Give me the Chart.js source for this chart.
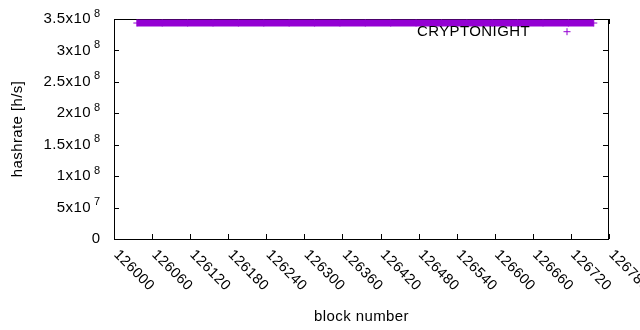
<!DOCTYPE html>
<html>
<head>
<meta charset="utf-8">
<script src="https://cdn.jsdelivr.net/npm/chart.js@4/dist/chart.umd.min.js"></script>
<style>
    body { margin: 0; background: #fff; }
    #wrap { width: 640px; height: 330px; }
</style>
</head>
<body>
<div id="wrap"><canvas id="hashChart" width="640" height="330"></canvas></div>
<script>
// 데이터
const seriesName = 'CRYPTONIGHT';
const blocks = [126036, 126076, 126116, 126156, 126196, 126236, 126276, 126316, 126356, 126396,
                126436, 126476, 126516, 126556, 126596, 126636, 126676, 126716, 126756];
const hashrates = [343600000, 343600000, 343600000, 343600000, 343600000, 343600000, 343600000,
                   343600000, 343600000, 343600000, 343600000, 343600000, 343600000, 343600000,
                   343600000, 343600000, 343600000, 343600000, 343600000];

// 축 눈금
const xTicks = [126000, 126060, 126120, 126180, 126240, 126300, 126360, 126420,
                126480, 126540, 126600, 126660, 126720, 126780];
const xTickLabels = ['126000', '126060', '126120', '126180', '126240', '126300', '126360',
                     '126420', '126480', '126540', '126600', '126660', '126720', '126780'];
const yTicks = [0, 50000000, 100000000, 150000000, 200000000, 250000000, 300000000, 350000000];
const yTickBase = ['0', '5x10', '1x10', '1.5x10', '2x10', '2.5x10', '3x10', '3.5x10'];
const yTickExp = ['', '7', '8', '8', '8', '8', '8', '8'];

const PURPLE = '#9400d3';
const FONT = '"Liberation Sans", Arial, sans-serif';
const SPACING = '0.4px';

// gnuplot 스타일 테두리, 눈금, 라벨
const gnuplotFrame = {
    id: 'gnuplotFrame',
    beforeDatasetsDraw(chart) {
        const { ctx, chartArea: a, scales: { x, y } } = chart;
        ctx.save();
        ctx.strokeStyle = '#000';
        ctx.lineWidth = 1;
        ctx.strokeRect(a.left + 0.5, a.top + 0.5, a.right - a.left - 1, a.bottom - a.top);

        ctx.beginPath();
        yTicks.forEach(v => {
            const py = Math.round(y.getPixelForValue(v)) + 0.5;
            ctx.moveTo(a.left, py); ctx.lineTo(a.left + 5, py);
            ctx.moveTo(a.right - 1, py); ctx.lineTo(a.right - 6, py);
        });
        xTicks.forEach(v => {
            const px = Math.round(x.getPixelForValue(v)) + 0.5;
            ctx.moveTo(px, a.bottom); ctx.lineTo(px, a.bottom - 5);
            ctx.moveTo(px, a.top); ctx.lineTo(px, a.top + 5);
        });
        ctx.stroke();

        ctx.fillStyle = '#000';
        ctx.letterSpacing = SPACING;

        // y 눈금 라벨 (위첨자 지수)
        yTicks.forEach((v, i) => {
            const py = y.getPixelForValue(v);
            const right = a.left - 13.5;
            ctx.textBaseline = 'middle';
            ctx.textAlign = 'right';
            if (yTickExp[i]) {
                ctx.font = `11px ${FONT}`;
                ctx.fillText(yTickExp[i], right, py - 5.5);
                const w = ctx.measureText(yTickExp[i]).width;
                ctx.font = `15px ${FONT}`;
                ctx.fillText(yTickBase[i], right - w - 3, py);
            } else {
                ctx.font = `15px ${FONT}`;
                ctx.fillText(yTickBase[i], right, py);
            }
        });

        // x 눈금 라벨 (45도 회전)
        ctx.font = `14.5px ${FONT}`;
        ctx.textAlign = 'left';
        ctx.textBaseline = 'middle';
        xTicks.forEach((v, i) => {
            const px = x.getPixelForValue(v);
            ctx.save();
            ctx.translate(px + 2, a.bottom + 13.5);
            ctx.rotate(Math.PI / 4);
            ctx.fillText(xTickLabels[i], 0, 0);
            ctx.restore();
        });

        // 축 제목
        ctx.font = `15px ${FONT}`;
        ctx.textAlign = 'center';
        ctx.textBaseline = 'alphabetic';
        ctx.fillText('block number', (a.left + a.right) / 2, 321);
        ctx.save();
        ctx.translate(22, (a.top + a.bottom) / 2);
        ctx.rotate(-Math.PI / 2);
        ctx.fillText('hashrate [h/s]', 0, 0);
        ctx.restore();
        ctx.restore();
    },
    afterDatasetsDraw(chart) {
        const { ctx, chartArea: a } = chart;
        const ky = a.top + 12.7;
        ctx.save();
        ctx.fillStyle = '#000';
        ctx.letterSpacing = SPACING;
        ctx.font = `15px ${FONT}`;
        ctx.textAlign = 'right';
        ctx.textBaseline = 'middle';
        ctx.fillText(seriesName, a.right - 79, ky);
        ctx.strokeStyle = PURPLE;
        ctx.lineWidth = 1;
        const kx = a.right - 42;
        ctx.beginPath();
        ctx.moveTo(kx - 3.5, ky); ctx.lineTo(kx + 3.5, ky);
        ctx.moveTo(kx, ky - 3.5); ctx.lineTo(kx, ky + 3.5);
        ctx.stroke();
        ctx.restore();
    }
};

new Chart(document.getElementById('hashChart'), {
    type: 'scatter',
    data: {
        datasets: [{
            label: seriesName,
            data: blocks.map((b, i) => ({ x: b, y: hashrates[i] })),
            showLine: true,
            borderColor: PURPLE,
            backgroundColor: PURPLE,
            borderWidth: 7,
            borderCapStyle: 'butt',
            pointStyle: 'cross',
            pointRadius: 3.5,
            pointBorderWidth: 1,
            pointBorderColor: PURPLE
        }]
    },
    options: {
        responsive: false,
        animation: false,
        events: [],
        layout: { padding: { top: 19, right: 31, left: 0, bottom: 0 } },
        plugins: { legend: { display: false }, tooltip: { enabled: false } },
        scales: {
            x: {
                type: 'linear',
                min: 126000, max: 126780,
                ticks: { display: false, stepSize: 60 },
                grid: { display: false },
                border: { display: false },
                afterFit: s => { s.height = 91; }
            },
            y: {
                min: 0, max: 350000000,
                ticks: { display: false, stepSize: 50000000 },
                grid: { display: false },
                border: { display: false },
                afterFit: s => { s.width = 114; }
            }
        }
    },
    plugins: [gnuplotFrame]
});
</script>
</body>
</html>
